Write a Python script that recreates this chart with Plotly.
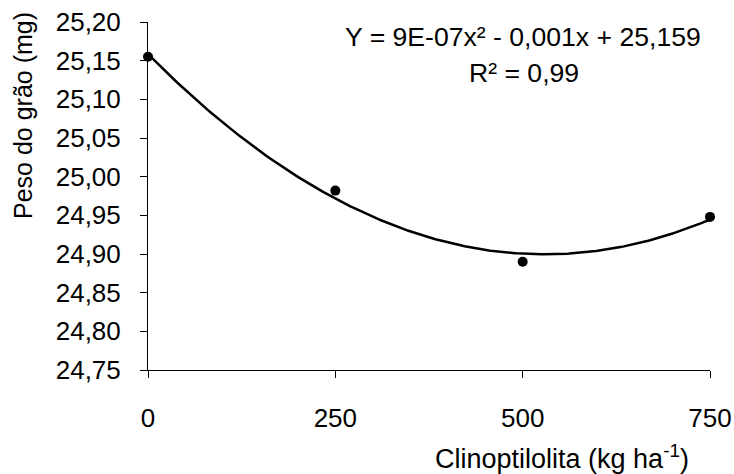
import numpy as np
import plotly.graph_objects as go

# Data
doses = [0, 250, 500, 750]                 # Clinoptilolita (kg ha-1)
peso = [25.155, 24.982, 24.890, 24.948]    # Peso do grão (mg)
x_ticks = [0, 250, 500, 750]
y_ticks = [24.75, 24.80, 24.85, 24.90, 24.95, 25.00, 25.05, 25.10, 25.15, 25.20]
y_tick_labels = [f"{v:.2f}".replace(".", ",") for v in y_ticks]
equation = "Y = 9E-07x² - 0,001x + 25,159"
r2_text = "R² = 0,99"

# Quadratic trendline (fitted from the data, as in the original spreadsheet)
coef = np.polyfit(doses, peso, 2)
xs = np.linspace(0, 750, 301)
ys = np.polyval(coef, xs)

FONT = "Arial, Liberation Sans, sans-serif"
L, R, T, B = 148, 710, 22, 370
W = R - L
H = B - T

fig = go.Figure()
fig.add_trace(go.Scatter(x=xs, y=ys, mode="lines",
                         line=dict(color="black", width=2.5),
                         cliponaxis=False, hoverinfo="skip", showlegend=False))
fig.add_trace(go.Scatter(x=doses, y=peso, mode="markers",
                         marker=dict(color="black", size=10),
                         cliponaxis=False, showlegend=False))

fig.update_layout(
    width=734, height=474,
    margin=dict(l=L, r=734 - R, t=T, b=474 - B, autoexpand=False),
    paper_bgcolor="white", plot_bgcolor="white",
    font=dict(family=FONT, size=26, color="black"),
    showlegend=False,
)
fig.update_xaxes(
    range=[0, 750], tickvals=x_ticks, ticktext=[str(v) for v in x_ticks],
    showgrid=False, zeroline=False, showline=True, linecolor="black", linewidth=1,
    ticks="outside", ticklen=7, tickcolor="black", tickwidth=1,
    tickfont=dict(size=26), ticklabelstandoff=18, automargin=False,
)
fig.update_yaxes(
    range=[24.75, 25.20], tickvals=y_ticks, ticktext=y_tick_labels,
    showgrid=False, zeroline=False, showline=True, linecolor="black", linewidth=1,
    ticks="outside", ticklen=7, tickcolor="black", tickwidth=1,
    tickfont=dict(size=26), ticklabelstandoff=14, automargin=False,
)

# Axis titles
fig.add_annotation(text="Clinoptilolita (kg ha<sup>-1</sup>)", xref="paper", yref="paper",
                   x=(562 - L) / W, y=(B - 457) / H,
                   xanchor="center", yanchor="middle", showarrow=False,
                   font=dict(size=27))
fig.add_annotation(text="Peso do grão (mg)", xref="paper", yref="paper",
                   x=(23 - L) / W, y=(B - 116) / H,
                   xanchor="center", yanchor="middle", showarrow=False,
                   textangle=-90, font=dict(size=25))

# Equation
fig.add_annotation(text=equation, xref="paper", yref="paper",
                   x=(523 - L) / W, y=(B - 37) / H,
                   xanchor="center", yanchor="middle", showarrow=False,
                   font=dict(size=26.6))
fig.add_annotation(text=r2_text, xref="paper", yref="paper",
                   x=(524 - L) / W, y=(B - 73) / H,
                   xanchor="center", yanchor="middle", showarrow=False,
                   font=dict(size=26.6))

fig.write_html("out.html")
